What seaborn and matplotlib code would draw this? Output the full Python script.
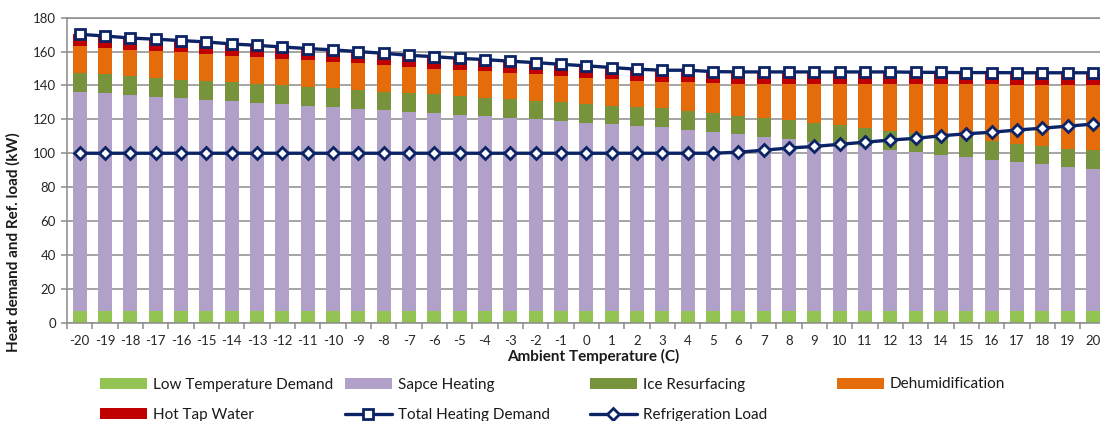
import numpy as np
import pandas as pd
import seaborn as sns
import matplotlib.pyplot as plt
from matplotlib.lines import Line2D
from matplotlib.patches import Patch

# Ambient temperature steps (C)
temperatures = list(range(-20, 21))

# Heat demand components (kW)
low_temperature_demand = [7] * 41
space_heating = [129.3, 128.5, 127.5, 126.3, 125.4, 124.6, 123.8, 122.8, 122.0, 121.0,
                 120.3, 119.3, 118.3, 117.3, 116.7, 115.7, 114.8, 114.0, 113.0, 112.0,
                 111.0, 110.0, 109.3, 108.5, 107.0, 105.5, 104.2, 102.8, 101.4, 99.9,
                 98.5, 97.0, 95.2, 94.0, 92.0, 91.0, 89.3, 87.7, 86.5, 84.8, 83.8]
ice_resurfacing = [11] * 41
dehumidification = [15.9, 15.7, 15.5, 16.0, 16.1, 16.1, 15.7, 15.9, 15.7, 15.8,
                    15.7, 15.7, 15.7, 15.5, 15.3, 15.3, 15.5, 15.3, 15.5, 15.5,
                    15.6, 15.6, 15.3, 15.5, 17.0, 17.7, 18.8, 20.2, 21.6, 23.1,
                    24.5, 26.0, 27.8, 28.8, 30.7, 31.6, 33.3, 34.8, 36.0, 37.7, 38.7]
hot_tap_water = [7] * 41

# Refrigeration load (kW)
refrigeration_load = [100] * 26 + [100.6, 101.8, 103.1, 104.0, 105.3, 106.5, 107.8,
                                   108.8, 110.3, 111.5, 112.4, 113.7, 114.8, 116.0, 117.2]

series_names = ["Low Temperature Demand", "Sapce Heating", "Ice Resurfacing",
                "Dehumidification", "Hot Tap Water"]
series_colors = ["#92C353", "#B1A0C7", "#77933C", "#E46C0A", "#C00000"]
line_color = "#0C2466"

df = pd.DataFrame({
    "temp": temperatures,
    series_names[0]: low_temperature_demand,
    series_names[1]: space_heating,
    series_names[2]: ice_resurfacing,
    series_names[3]: dehumidification,
    series_names[4]: hot_tap_water,
    "Refrigeration Load": refrigeration_load,
})
cum = df[series_names].cumsum(axis=1)
df["Total Heating Demand"] = cum[series_names[-1]]

sns.set_theme(style="white")
plt.rcParams["font.family"] = ["Lato", "DejaVu Sans"]
plt.rcParams["axes.unicode_minus"] = False

fig = plt.figure(figsize=(11, 4.21), dpi=100)
ax = fig.add_axes([67 / 1100, 98.3 / 421, (1105.6 - 67) / 1100, 305 / 421])

# stacked bars: draw cumulative heights from the top layer down
for name, color in reversed(list(zip(series_names, series_colors))):
    sns.barplot(x=df["temp"], y=cum[name], native_scale=True, color=color,
                saturation=1, width=0.55, linewidth=0, ax=ax, zorder=2)

sns.lineplot(x=df["temp"], y=df["Total Heating Demand"], ax=ax, color=line_color,
             linewidth=2.4, marker="s", markersize=7.5, markerfacecolor="white",
             markeredgecolor=line_color, markeredgewidth=2.0, zorder=4)
sns.lineplot(x=df["temp"], y=df["Refrigeration Load"], ax=ax, color=line_color,
             linewidth=2.4, marker="D", markersize=6.5, markerfacecolor="white",
             markeredgecolor=line_color, markeredgewidth=2.0, zorder=4)

grid_color = "#8C8C8C"
ax.set_xlim(-20.5, 20.5)
ax.set_ylim(0, 180)
ax.set_yticks(range(0, 181, 20))
ax.set_xticks(temperatures)
ax.set_xticks(np.arange(-20.5, 21, 1), minor=True)
ax.grid(axis="y", color=grid_color, linewidth=1.1, zorder=0)
ax.grid(axis="x", visible=False)
ax.set_axisbelow(True)
for side in ["left", "bottom", "top"]:
    ax.spines[side].set_visible(True)
    ax.spines[side].set_color(grid_color)
    ax.spines[side].set_linewidth(1.1)
ax.spines["right"].set_visible(False)

ax.tick_params(axis="x", which="major", length=0, pad=9, labelsize=9.5, labelcolor="#262626")
ax.tick_params(axis="x", which="minor", bottom=True, length=4, width=1.1, color=grid_color)
ax.tick_params(axis="y", which="major", left=True, length=4, width=1.1, color=grid_color,
               pad=4, labelsize=9.5, labelcolor="#262626")

ax.set_xlabel("Ambient Temperature (C)", fontsize=11, fontweight="bold", color="#1a1a1a")
ax.xaxis.set_label_coords(0.507, -0.085)
ax.set_ylabel("Heat demand and Ref. load (kW)", fontsize=11, fontweight="bold", color="#1a1a1a")
ax.yaxis.set_label_coords(-0.045, 0.265)

def bar_handle(c):
    return Patch(facecolor=c, edgecolor="none")

def line_handle(marker, ms):
    return Line2D([], [], color=line_color, lw=2.4, marker=marker, markersize=ms,
                  markerfacecolor="white", markeredgecolor=line_color, markeredgewidth=2.0)

columns = [
    (100, [(bar_handle(series_colors[0]), series_names[0]), (bar_handle(series_colors[4]), series_names[4])]),
    (345, [(bar_handle(series_colors[1]), series_names[1]), (line_handle("s", 7.5), "Total Heating Demand")]),
    (590, [(bar_handle(series_colors[2]), series_names[2]), (line_handle("D", 6.5), "Refrigeration Load")]),
    (837, [(bar_handle(series_colors[3]), series_names[3])]),
]
for x0, entries in columns:
    fig.legend([h for h, _ in entries], [l for _, l in entries], loc="upper left",
               bbox_to_anchor=(x0 / 1100, (421 - 377.5) / 421), frameon=False,
               fontsize=11, handlelength=3.07, handletextpad=0.4, labelspacing=1.07,
               borderpad=0, borderaxespad=0, labelcolor="#1a1a1a")

fig.savefig("out.png", dpi=100)
